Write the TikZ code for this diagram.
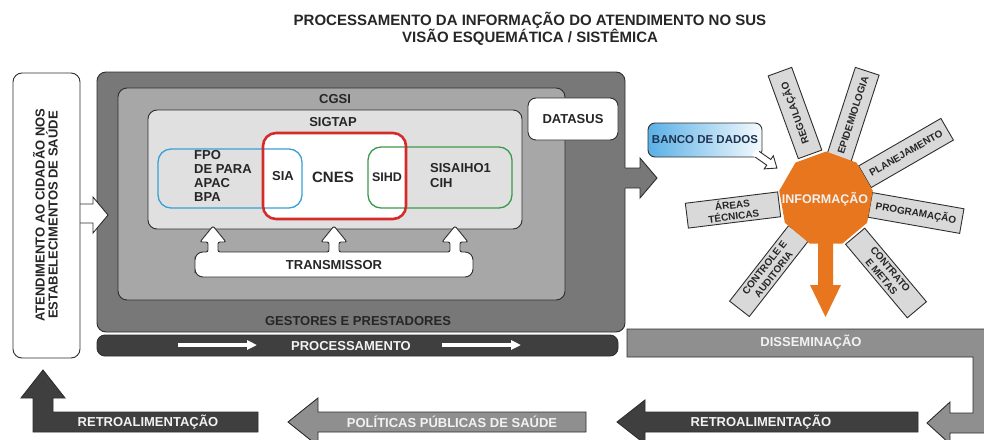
\documentclass[tikz,border=0pt]{standalone}
\usepackage{fontspec}
\setmainfont{Liberation Sans}
\usetikzlibrary{shapes.geometric,arrows.meta}

\definecolor{boxgray}{HTML}{787878}
\definecolor{cgsigray}{HTML}{A7A7A7}
\definecolor{sigtapgray}{HTML}{E0E0E0}
\definecolor{bardark}{HTML}{3F3F3F}
\definecolor{flowgray}{HTML}{8F8F8F}
\definecolor{raygray}{HTML}{D9D9D9}
\definecolor{infoorange}{HTML}{E8761E}
\definecolor{siablue}{HTML}{3AA0D8}
\definecolor{cnesred}{HTML}{D42A2A}
\definecolor{sihdgreen}{HTML}{3C9A4C}
\definecolor{bancoblue}{HTML}{5AB0E6}
\definecolor{bancoink}{HTML}{1F3350}
\definecolor{inkline}{HTML}{2E2E2E}

\tikzset{
    txt/.style={font=\bfseries\fontsize{13}{14}\selectfont, text=black!85, inner sep=0pt},
    wtxt/.style={txt, text=white!95!black},
    panel/.style={draw=inkline, line width=0.9pt, rounded corners=9pt, inner sep=0pt},
    ring/.style={rounded corners=13pt, minimum height=#1, inner sep=0pt},
    ray/.style={draw=inkline, line width=0.9pt, fill=raygray, minimum height=25pt, inner sep=1pt, align=center, font=\bfseries\fontsize{10}{11.5}\selectfont, text=black!85},
    flow/.style={draw=inkline, line width=0.9pt},
}

\begin{document}
\begin{tikzpicture}[x=1pt,y=-1pt]
    \useasboundingbox (0,0) rectangle (984,439);
    \clip (0,0) rectangle (984,439);

    \node(title) [txt, font=\bfseries\fontsize{15}{15}\selectfont, anchor=base] at (530,25.5) {PROCESSAMENTO DA INFORMAÇÃO DO ATENDIMENTO NO SUS};
    \node(subtitle) [txt, font=\bfseries\fontsize{15}{15}\selectfont, anchor=base] at (530,42) {VISÃO ESQUEMÁTICA / SISTÊMICA};

    \node(gestores) [panel, fill=boxgray, minimum width=528pt, minimum height=260pt] at (361,202) {};
    \node(gestlbl) [txt] at (358,321) {GESTORES E PRESTADORES};
    \node(proc) [panel, fill=bardark, rounded corners=8pt, minimum width=521pt, minimum height=21pt] at (357.5,345.5) {};
    \node(proclbl) [wtxt] at (351,346) {PROCESSAMENTO};
    \draw[white, line width=3.5pt, -{Triangle[length=10pt,width=9pt]}] (178,345) -- (257,345);
    \draw[white, line width=3.5pt, -{Triangle[length=10pt,width=9pt]}] (442,345) -- (521,345);

    \node(cgsi) [panel, fill=cgsigray, minimum width=447pt, minimum height=212pt] at (341.5,194) {};
    \node(cgsilbl) [txt] at (335,99) {CGSI};
    \node(sigtap) [panel, fill=sigtapgray, minimum width=374pt, minimum height=119pt] at (335,169.5) {};
    \node(sigtaplbl) [txt] at (333,122) {SIGTAP};

    \node(cnesfill) [ring=86pt, fill=white, minimum width=143pt] at (334.5,176) {};
    \node(sia) [ring=59pt, draw=siablue, line width=1.3pt, minimum width=144pt] at (230,178.5) {};
    \node(sihd) [ring=61pt, draw=sihdgreen, line width=1.3pt, minimum width=144pt] at (440,177.5) {};
    \node(cnes) [ring=86pt, draw=cnesred, line width=2.6pt, minimum width=143pt] at (334.5,176) {};

    \node(fpo) [txt, align=left, anchor=west] at (194,176) {FPO\\DE PARA\\APAC\\BPA};
    \node(sialbl) [txt] at (283,176) {SIA};
    \node(cneslbl) [txt, font=\bfseries\fontsize{15}{16}\selectfont] at (333,177) {CNES};
    \node(sihdlbl) [txt, font=\bfseries\fontsize{12.5}{14}\selectfont] at (387,177) {SIHD};
    \node(sisaih) [txt, align=left, anchor=west, font=\bfseries\fontsize{13}{15}\selectfont] at (430,175.5) {SISAIHO1\\CIH};

    \draw[fill=white, draw=inkline, line width=0.9pt, rounded corners=2pt]
        (195,265) [rounded corners=8pt] -- (195,252) [rounded corners=2pt] -- (208,252) -- (208,242) -- (200,242) -- (213,226) -- (226,242) -- (218,242) -- (218,252)
        -- (329,252) -- (329,242) -- (321,242) -- (334,226) -- (347,242) -- (339,242) -- (339,252)
        -- (450,252) -- (450,242) -- (442,242) -- (455,226) -- (468,242) -- (460,242) -- (460,252) [rounded corners=8pt]
        -- (473,252) -- (473,277) -- (195,277) -- cycle;
    \node(transm) [txt] at (334,265) {TRANSMISSOR};

    \node(datasus) [panel, fill=white, rounded corners=8pt, minimum width=90pt, minimum height=42pt, txt] at (573,119) {DATASUS};

    \fill[boxgray] (624,168) -- (640,168) -- (640,158) -- (657,178) -- (640,198) -- (640,188) -- (624,188) -- cycle;
    \draw[flow] (625,168) -- (640,168) -- (640,158) -- (657,178) -- (640,198) -- (640,188) -- (625,188);

    \fill[white] (79,204) -- (93,204) -- (93,197) -- (108,215) -- (93,233) -- (93,223) -- (79,223) -- cycle;
    \draw[flow] (80,204) -- (93,204) -- (93,197) -- (108,215) -- (93,233) -- (93,223) -- (80,223);
    \node(atend) [panel, fill=white, minimum width=67pt, minimum height=285pt] at (46.5,215.5) {};
    \node(atendlbl) [txt, rotate=90, anchor=base] at (44.5,215) {ATENDIMENTO AO CIDADÃO NOS};
    \node(establbl) [txt, rotate=90, anchor=base] at (57.5,215) {ESTABELECIMENTOS DE SAÚDE};

    \foreach \cx/\cy/\ang/\len/\lbl [count=\i] in {795/113/110/88/REGULAÇÃO, 853/115/72/92/EPIDEMIOLOGIA, 906/153/30/95/PLANEJAMENTO, 916/213/-10/93/PROGRAMAÇÃO, 886/273/-50/96/{CONTRATO\\E METAS}, 769/271/52/96/{CONTROLE E\\AUDITORIA}, 733/210/7/93/{ÁREAS\\TÉCNICAS}}
        \node(ray\i) [ray, rotate=\ang, minimum width=\len] at (\cx,\cy) {\lbl};

    \node(info) [regular polygon, regular polygon sides=9, fill=infoorange, minimum size=95pt, inner sep=0pt] at (826,199) {};
    \node(infolbl) [wtxt, font=\bfseries\fontsize{12.5}{13}\selectfont] at (825,199) {INFORMAÇÃO};
    \fill[infoorange] (818,235) -- (833,235) -- (833,285) -- (841,285) -- (825.5,317) -- (810,285) -- (818,285) -- cycle;

    \node(banco) [draw=inkline, line width=0.9pt, rounded corners=7pt, left color=bancoblue, right color=bancoblue!6, minimum width=114pt, minimum height=34pt, txt, text=bancoink, font=\bfseries\fontsize{11.5}{12}\selectfont] at (705,140) {BANCO DE DADOS};
    \begin{scope}[shift={(754,152)}, rotate=-35]
        \fill[white] (0,-3.5) -- (18,-3.5) -- (18,-8) -- (28,0) -- (18,8) -- (18,3.5) -- (0,3.5) -- cycle;
        \draw[flow] (4,-3.5) -- (18,-3.5) -- (18,-8) -- (28,0) -- (18,8) -- (18,3.5) -- (4,3.5);
    \end{scope}

    \draw[flow, fill=flowgray] (627,329) -- (990,329) -- (990,433) -- (950,433) -- (950,444) -- (927,423) -- (950,402) -- (950,413) -- (973,413) -- (973,357) -- (627,357) -- cycle;
    \node(dissem) [wtxt] at (811,342) {DISSEMINAÇÃO};

    \draw[flow, fill=bardark] (918,412) -- (645,412) -- (645,400) -- (617,422) -- (645,444) -- (645,432) -- (918,432) -- cycle;
    \node(retro2) [wtxt] at (761,422) {RETROALIMENTAÇÃO};
    \draw[flow, fill=flowgray] (586,412) -- (318,412) -- (318,398) -- (288,422) -- (318,446) -- (318,432) -- (586,432) -- cycle;
    \node(politicas) [wtxt] at (452,422) {POLÍTICAS PÚBLICAS DE SAÚDE};
    \draw[flow, fill=bardark] (258,412) -- (53,412) -- (53,398) -- (65,398) -- (43,370) -- (21,398) -- (33,398) -- (33,432) -- (258,432) -- cycle;
    \node(retro1) [wtxt] at (148,422) {RETROALIMENTAÇÃO};
\end{tikzpicture}
\end{document}
